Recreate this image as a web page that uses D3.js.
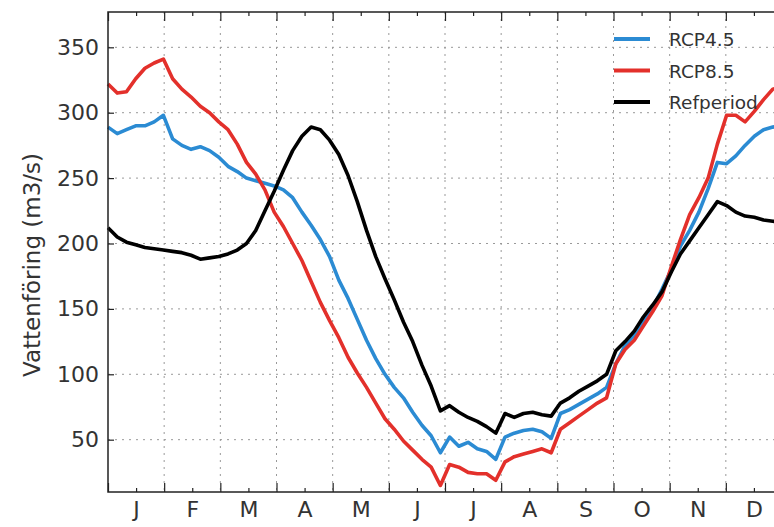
<!DOCTYPE html>
<html>
<head>
<meta charset="utf-8">
<script src="https://cdn.jsdelivr.net/npm/d3@7"></script>
<style>
  body { margin: 0; background: #fff; }
  svg { display: block; font-family: "DejaVu Sans", sans-serif; }
  .grid line { stroke: #999; stroke-dasharray: 2,5; stroke-width: 1; }
  .line { fill: none; stroke-width: 3.6; stroke-linejoin: round; }
</style>
</head>
<body>
<svg width="774" height="527"></svg>
<script>
// day of year for every sample
var days = [0,5,10,15,20,25,30,35,40,45,50,55,60,65,70,75,80,85,90,95,100,105,110,115,120,125,130,135,140,145,150,155,160,165,170,175,180,185,190,195,200,205,210,215,220,225,230,235,240,245,250,255,260,265,270,275,280,285,290,295,300,305,310,315,320,325,330,335,340,345,350,355,360,365];

var rcp45 = [289,284,287,290,290,293,298,280,275,272,274,271,266,259,255,250,248,246,244,241,235,224,214,203,190,172,158,142,126,112,100,90,82,71,61,53,40,52,45,48,43,41,35,52,55,57,58,56,51,70,73,77,81,85,90,108,122,130,141,151,165,180,198,210,224,242,262,261,267,275,282,287,289,290];

var rcp85 = [322,315,316,326,334,338,341,326,318,312,305,300,293,287,276,262,253,241,224,213,200,187,171,155,141,128,113,101,90,78,66,58,49,42,35,29,15,31,29,25,24,24,19,33,37,39,41,43,40,58,63,68,73,78,82,108,119,126,137,148,160,182,203,222,235,250,276,298,298,293,301,310,318,320];

var refperiod = [212,205,201,199,197,196,195,194,193,191,188,189,190,192,195,200,210,225,240,256,271,282,289,287,279,268,252,232,210,190,173,157,140,125,107,91,72,76,71,67,64,60,55,70,67,70,71,69,68,78,82,87,91,95,100,118,125,133,144,153,163,178,192,202,212,222,232,229,224,221,220,218,217,216];

var months = ["J","F","M","A","M","J","J","A","S","O","N","D"];
var yTicks = [50,100,150,200,250,300,350];

var series = [
  {name: "RCP4.5", values: rcp45, color: "#2b8bd3"},
  {name: "RCP8.5", values: rcp85, color: "#e3302b"},
  {name: "Refperiod", values: refperiod, color: "#000"}
];

var svg = d3.select("svg"),
    margin = {top: 12, left: 108},
    width = 674,   // plot runs past the right edge of the picture
    height = 480,
    g = svg.append("g").attr("transform", "translate(" + margin.left + "," + margin.top + ")");

var x = d3.scaleLinear().domain([0, 365]).range([0, width]);
var y = d3.scaleLinear().domain([10, 377]).range([height, 0]);

var monthLen = 365 / 12;
var bounds = d3.range(13).map(function(i){ return i * monthLen; });
var mids = d3.range(12).map(function(i){ return (i + 0.5) * monthLen; });

// grid
g.append("g").attr("class", "grid")
  .selectAll("line.h").data(yTicks).enter().append("line")
    .attr("x1", 0).attr("x2", width)
    .attr("y1", function(d){ return y(d); }).attr("y2", function(d){ return y(d); });
g.select(".grid")
  .selectAll("line.v").data(bounds.slice(1, 12)).enter().append("line")
    .attr("y1", 0).attr("y2", height)
    .attr("x1", function(d){ return x(d); }).attr("x2", function(d){ return x(d); });

// lines
var line = d3.line()
  .x(function(d, i){ return x(days[i]); })
  .y(function(d){ return y(d); });

series.forEach(function(s){
  g.append("path")
    .datum(s.values)
    .attr("class", "line")
    .attr("stroke", s.color)
    .attr("d", line);
});

// axes: inward ticks on all sides
function styleAxis(sel){
  sel.select(".domain").remove();
  sel.selectAll(".tick line").attr("stroke", "#222").attr("stroke-width", 1.2);
  sel.selectAll("text").attr("fill", "#333").style("font-size", "22px")
    .style("font-family", "DejaVu Sans, sans-serif");
}

g.append("g")
  .call(d3.axisLeft(y).tickValues(yTicks).tickSize(-6).tickPadding(9).tickFormat(d3.format("d")))
  .call(styleAxis);

g.append("g").attr("transform", "translate(0," + height + ")")
  .call(d3.axisBottom(x).tickValues(bounds).tickSize(-9).tickFormat(""))
  .call(styleAxis);
g.append("g").attr("transform", "translate(0," + height + ")")
  .call(d3.axisBottom(x).tickValues(mids).tickSize(-4).tickPadding(9)
    .tickFormat(function(d, i){ return months[i]; }))
  .call(styleAxis);

g.append("g")
  .call(d3.axisTop(x).tickValues(bounds).tickSize(-9).tickFormat(""))
  .call(styleAxis);
g.append("g")
  .call(d3.axisTop(x).tickValues(mids).tickSize(-4).tickFormat(""))
  .call(styleAxis);

// frame
g.append("rect")
  .attr("width", width).attr("height", height)
  .attr("fill", "none").attr("stroke", "#222").attr("stroke-width", 1.5);

// y label
svg.append("text")
  .attr("transform", "translate(40," + (margin.top + 253) + ") rotate(-90)")
  .attr("text-anchor", "middle")
  .attr("fill", "#333")
  .style("font-size", "23px")
  .text("Vattenföring (m3/s)");

// legend
var legend = g.append("g").attr("transform", "translate(506,27)");
series.forEach(function(s, i){
  var row = legend.append("g").attr("transform", "translate(0," + (i * 31.5) + ")");
  row.append("line").attr("x1", 0).attr("x2", 36)
    .attr("stroke", s.color).attr("stroke-width", 3.8);
  row.append("text").attr("x", 55).attr("y", 7)
    .attr("fill", "#333").style("font-size", "18.5px")
    .text(s.name);
});
</script>
</body>
</html>
